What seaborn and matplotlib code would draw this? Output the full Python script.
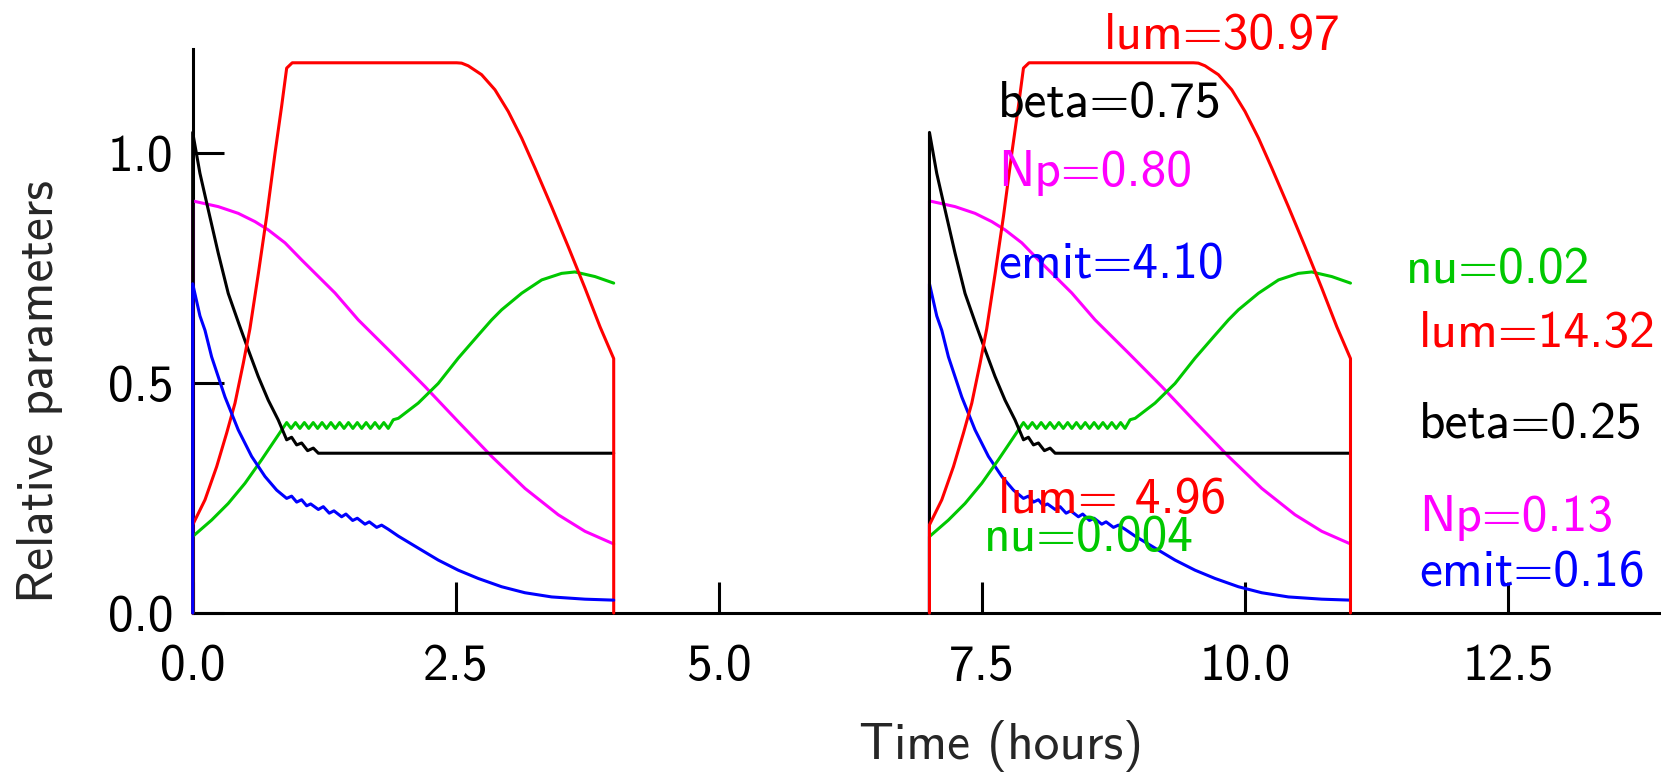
import matplotlib
matplotlib.use("Agg")
import matplotlib.pyplot as plt
import pandas as pd
import seaborn as sns

# ---- one fill: hours since injection, values in physical units ----
lum_hours = [0.0, 0.117, 0.228, 0.323, 0.402, 0.481, 0.544, 0.624, 0.703, 0.782, 0.845,
             0.893, 0.946, 2.508, 2.555, 2.618, 2.745, 2.872, 2.998, 3.126, 3.252, 3.41,
             3.568, 3.727, 3.87, 4.0]
lum_vals = [4.96, 6.37, 8.24, 10.13, 11.81, 14.06, 16.00, 19.11, 22.33, 25.87, 28.52,
            30.67, 30.97, 30.97, 30.95, 30.80, 30.30, 29.45, 28.23, 26.73, 25.05, 22.87,
            20.62, 18.29, 16.11, 14.32]

beta_hours = [0.0, 0.069, 0.148, 0.243, 0.338, 0.44, 0.528, 0.623, 0.718, 0.813, 0.893,
              0.94, 0.988, 1.035, 1.092, 1.146, 1.194, 4.0]
beta_vals = [0.752, 0.688, 0.631, 0.563, 0.500, 0.452, 0.412, 0.370, 0.333, 0.302, 0.271,
             0.275, 0.263, 0.266, 0.254, 0.258, 0.250, 0.250]

np_hours = [0.0, 0.243, 0.433, 0.592, 0.718, 0.877, 1.035, 1.352, 1.573, 1.89, 2.207,
            2.523, 2.84, 3.157, 3.473, 3.727, 4.0]
np_vals = [0.797, 0.786, 0.773, 0.757, 0.741, 0.716, 0.683, 0.619, 0.567, 0.503, 0.438,
           0.370, 0.303, 0.241, 0.190, 0.158, 0.1335]

emit_hours = [0.0, 0.069, 0.117, 0.18, 0.307, 0.433, 0.56, 0.687, 0.798, 0.893,
              0.94, 0.988, 1.035, 1.083, 1.121, 1.194, 1.241, 1.298, 1.342, 1.415,
              1.456, 1.52, 1.564, 1.637, 1.678, 1.748, 1.795, 1.858,
              1.954, 2.143, 2.333, 2.523, 2.713, 2.935, 3.157, 3.41, 3.727, 4.0]
emit_vals = [4.10, 3.70, 3.52, 3.19, 2.69, 2.28, 1.95, 1.70, 1.53, 1.427,
             1.455, 1.381, 1.410, 1.335, 1.358, 1.289, 1.324, 1.243, 1.272, 1.198,
             1.232, 1.152, 1.180, 1.106, 1.135, 1.066, 1.094, 1.043,
             0.957, 0.808, 0.659, 0.533, 0.430, 0.327, 0.252, 0.200, 0.172, 0.16]

nu_hours = [0.0, 0.18, 0.338, 0.497, 0.655, 0.782,
            0.893, 0.935, 0.977, 1.019, 1.061, 1.103, 1.145, 1.187, 1.229, 1.271,
            1.313, 1.355, 1.396, 1.438, 1.480, 1.522, 1.564, 1.606, 1.648, 1.690,
            1.732, 1.774, 1.816, 1.858,
            1.906, 1.954, 2.143, 2.333, 2.523, 2.713, 2.84, 2.935, 3.126, 3.316,
            3.505, 3.632, 3.822, 4.0]
nu_vals = [0.00432, 0.00525, 0.00619, 0.00733, 0.00866, 0.00978,
           0.01076, 0.01043, 0.01076, 0.01043, 0.01076, 0.01043, 0.01076, 0.01043,
           0.01076, 0.01043, 0.01076, 0.01043, 0.01076, 0.01043, 0.01076, 0.01043,
           0.01076, 0.01043, 0.01076, 0.01043, 0.01076, 0.01043, 0.01076, 0.01043,
           0.01092, 0.01100, 0.01186, 0.01297, 0.01440, 0.01570, 0.01656, 0.01713,
           0.01807, 0.01882, 0.01919, 0.01927, 0.01901, 0.01864]

# normalisation references for the relative scale
lum_ref, beta_ref, np_ref, emit_ref, nu_ref = 25.9, 0.72, 0.89, 5.73, 0.026

fill_starts = [0.0, 7.0]

x_ticks = [0.0, 2.5, 5.0, 7.5, 10.0, 12.5]
x_tick_labels = ["0.0", "2.5", "5.0", "7.5", "10.0", "12.5"]
y_ticks = [0.0, 0.5, 1.0]
y_tick_labels = ["0.0", "0.5", "1.0"]

series = {
    "emit": (emit_hours, emit_vals, emit_ref, "#0000ff"),
    "Np": (np_hours, np_vals, np_ref, "#ff00ff"),
    "nu": (nu_hours, nu_vals, nu_ref, "#00c800"),
    "beta": (beta_hours, beta_vals, beta_ref, "#000000"),
    "lum": (lum_hours, lum_vals, lum_ref, "#ff0000"),
}
draw_order = [["Np", "nu", "beta", "lum", "emit"],
              ["emit", "Np", "nu", "beta", "lum"]]

sns.set_style("ticks")
plt.rcParams["font.family"] = ["cmss10", "DejaVu Sans"]
plt.rcParams["axes.unicode_minus"] = False
plt.rcParams["mathtext.fontset"] = "cm"

fig = plt.figure(figsize=(16.61, 7.78), dpi=100)
ax = fig.add_axes([0.1160, 0.2121, 0.8840, 0.7245])

for start, order in zip(fill_starts, draw_order):
    for name in order:
        hrs, vals, ref, col = series[name]
        # every quantity rises from zero at injection; luminosity drops to zero at dump
        t = [start] + [start + h for h in hrs]
        v = [0.0] + [x / ref for x in vals]
        if name == "lum":
            t.append(start + hrs[-1])
            v.append(0.0)
        df = pd.DataFrame({"t": t, "v": v})
        sns.lineplot(data=df, x="t", y="v", color=col, lw=2.2, sort=False,
                     estimator=None, ax=ax, legend=False, zorder=3, clip_on=False)

ax.set_xlim(0, 13.95)
ax.set_ylim(0, 1.225)
ax.set_xticks(x_ticks, x_tick_labels)
ax.set_yticks(y_ticks, y_tick_labels)
for s in ["top", "right"]:
    ax.spines[s].set_visible(False)
for s in ["left", "bottom"]:
    ax.spines[s].set_linewidth(2.2)
    ax.spines[s].set_color("black")
ax.tick_params(axis="both", direction="in", length=22, width=2.2, labelsize=37,
               colors="black")
ax.tick_params(axis="y", pad=14)
ax.tick_params(axis="x", pad=22)

ax.set_xlabel("Time (hours)", fontsize=37)
ax.set_ylabel("Relative parameters", fontsize=37)
ax.xaxis.set_label_coords(0.5505, -0.19)
ax.yaxis.set_label_coords(-0.088, 0.392)

# start and end values of the second fill
fs = 37
notes = [
    (8.658, 1.225, f"lum={max(lum_vals):.2f}", "#ff0000"),
    (7.654, 1.079, f"beta={beta_vals[0]:.2f}", "#000000"),
    (7.654, 0.927, f"Np={np_vals[0]:.2f}", "#ff00ff"),
    (7.654, 0.728, f"emit={emit_vals[0]:.2f}", "#0000ff"),
    (7.654, 0.218, f"lum={lum_vals[0]:5.2f}", "#ff0000"),
    (7.517, 0.135, f"nu={nu_vals[0]:.3f}", "#00c800"),
    (11.53, 0.718, f"nu={nu_vals[-1]:.2f}", "#00c800"),
    (11.653, 0.577, f"lum={lum_vals[-1]:.2f}", "#ff0000"),
    (11.653, 0.380, f"beta={beta_vals[-1]:.2f}", "#000000"),
    (11.653, 0.179, f"Np={np_vals[-1]:.2f}", "#ff00ff"),
    (11.653, 0.059, f"emit={emit_vals[-1]:.2f}", "#0000ff"),
]
for x, y, txt, col in notes:
    ax.text(x, y, txt, color=col, fontsize=fs, ha="left", va="baseline", zorder=4)

fig.savefig("out.png", dpi=100)
